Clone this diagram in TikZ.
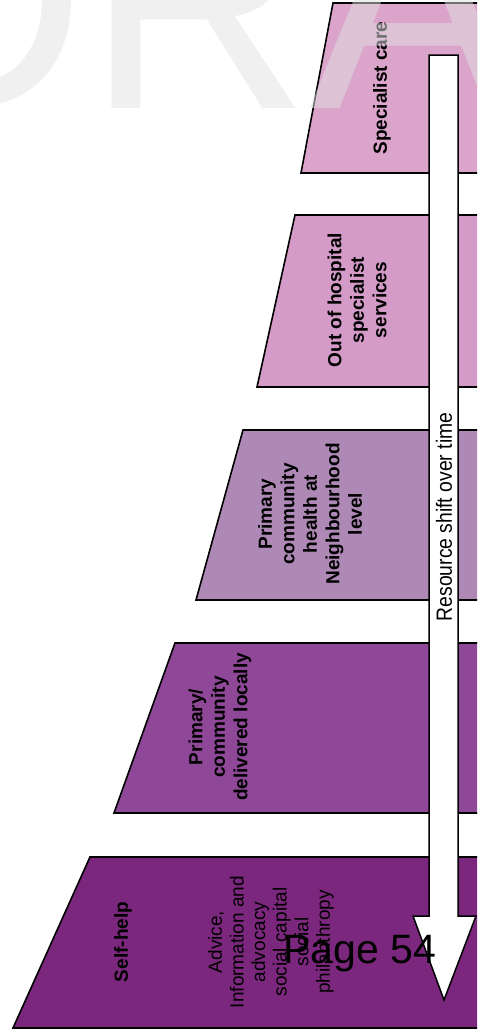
\documentclass[tikz,border=0pt]{standalone}
\usepackage{xcolor}
\usepackage{fontspec}
\setmainfont{Liberation Sans}
\usepackage{tikz}
\usetikzlibrary{positioning}

\definecolor{tierA}{HTML}{DBA5CB}
\definecolor{tierB}{HTML}{D49BC8}
\definecolor{tierC}{HTML}{AE89B6}
\definecolor{tierD}{HTML}{8E4897}
\definecolor{tierE}{HTML}{7B277D}
\definecolor{markgray}{RGB}{225,225,225}

\begin{document}
\begin{tikzpicture}[x=1pt, y=-1pt,
    tier/.style={draw=black, line width=1.6pt, line join=miter},
    tierlabel/.style={rotate=90, align=center, inner sep=0pt, font=\fontsize{19}{22.5}\selectfont\bfseries},
    plainlabel/.style={rotate=90, align=center, inner sep=0pt, font=\fontsize{19}{21.6}\selectfont}]
    \useasboundingbox (0,0) rectangle (477,1036);
    \clip (0,0) rectangle (477,1036);

    % tiers, top to bottom
    \draw [tier, fill=tierA] (333,3) -- (490,3) -- (490,173) -- (301,173) -- cycle;
    \draw [tier, fill=tierB] (295,215) -- (490,215) -- (490,387) -- (257,387) -- cycle;
    \draw [tier, fill=tierC] (243,430) -- (490,430) -- (490,600) -- (196,600) -- cycle;
    \draw [tier, fill=tierD] (175,643) -- (490,643) -- (490,813) -- (114,813) -- cycle;
    \draw [tier, fill=tierE] (90,857) -- (490,857) -- (490,1028) -- (13,1028) -- cycle;

    \node (spec) [tierlabel] at (382,88) {Specialist care};
    \node (outhosp) [tierlabel] at (357,300) {Out of hospital\\specialist\\services};
    \node (neigh) [tierlabel] at (310,514) {Primary\\community\\health at\\Neighbourhood\\level};
    \node (local) [tierlabel] at (220,727) {Primary/\\community\\delivered locally};
    \node (self) [tierlabel] at (123,942) {Self-help};
    \node (advice) [plainlabel] at (271,942) {Advice,\\Information and\\advocacy\\social capital\\social\\philanthropy};

    % resource arrow
    \draw [fill=white, draw=black, line width=1.5pt] (429,55) -- (458,55) -- (458,916) -- (476,916)
        -- (444,1000) -- (413,916) -- (429,916) -- cycle;
    \node (shift) [rotate=90, xscale=0.88, inner sep=0pt, font=\fontsize{22}{24}\selectfont] at (444,517) {Resource shift over time};

    \node (page) [anchor=base, inner sep=0pt, font=\fontsize{41}{44}\selectfont] at (360,963) {Page 54};

    % watermark
    \node (mark) [anchor=base west, inner sep=0pt, text=markgray, text opacity=0.5,
        font=\fontsize{310}{310}\selectfont] at (-138,108) {DRAFT};
\end{tikzpicture}
\end{document}
